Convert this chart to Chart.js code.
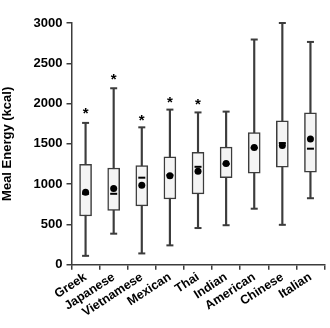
<!DOCTYPE html>
<html>
<head>
<meta charset="utf-8">
<script src="https://cdn.jsdelivr.net/npm/chart.js@4"></script>
<style>
  html, body { margin: 0; padding: 0; background: #fff; }
  #wrap { width: 330px; height: 328px; }
</style>
</head>
<body>
<div id="wrap"><canvas id="mealChart"></canvas></div>
<script>
// Data
const categories = ['Greek', 'Japanese', 'Vietnamese', 'Mexican', 'Thai', 'Indian', 'American', 'Chinese', 'Italian'];
const whiskerMin = [110, 385, 140, 240, 455, 490, 695, 495, 825];
const q1 = [605, 675, 730, 815, 880, 1080, 1135, 1210, 1150];
const median = [880, 880, 1080, 1110, 1215, 1250, 1450, 1510, 1440];
const q3 = [1245, 1200, 1230, 1340, 1395, 1460, 1640, 1785, 1885];
const whiskerMax = [1760, 2190, 1705, 1925, 1890, 1900, 2795, 3000, 2765];
const mean = [900, 945, 985, 1105, 1160, 1255, 1455, 1480, 1560];
const stars = [1920, 2345, 1840, 2055, 2030, null, null, null, null];
const yTicks = [0, 500, 1000, 1500, 2000, 2500, 3000];

const dark = '#3c3c3c';
const font = { family: 'Liberation Sans, Arial, sans-serif', weight: 'bold' };

// significance stars drawn as text at data positions
const starPlugin = {
  id: 'stars',
  afterDatasetsDraw(chart) {
    const { ctx, scales: { x, y } } = chart;
    ctx.save();
    ctx.fillStyle = '#000';
    ctx.font = 'bold 15px "Liberation Sans", Arial, sans-serif';
    ctx.textAlign = 'center';
    ctx.textBaseline = 'middle';
    stars.forEach((v, i) => {
      if (v == null) return;
      ctx.fillText('*', x.getPixelForValue(i), y.getPixelForValue(v) + 4);
    });
    ctx.restore();
  }
};

const pointSet = (data, style, radius, order, extra) => Object.assign({
  type: 'line',
  data: data,
  showLine: false,
  pointStyle: style,
  pointRadius: radius,
  pointHoverRadius: radius,
  pointBorderColor: '#000',
  pointBackgroundColor: '#000',
  pointBorderWidth: 2,
  clip: false,
  order: order
}, extra || {});

const ctx = document.getElementById('mealChart').getContext('2d');
new Chart(ctx, {
  type: 'bar',
  data: {
    labels: categories,
    datasets: [
      {
        label: 'whisker',
        data: whiskerMin.map((v, i) => [v, whiskerMax[i]]),
        backgroundColor: dark,
        borderWidth: 0,
        barThickness: 1.5,
        grouped: false,
        clip: false,
        order: 6
      },
      {
        label: 'box',
        data: q1.map((v, i) => [v, q3[i]]),
        backgroundColor: '#f4f4f4',
        borderColor: dark,
        borderWidth: 1.5,
        borderSkipped: false,
        barThickness: 12,
        grouped: false,
        order: 5
      },
      pointSet(whiskerMin, 'line', 3.5, 4, { pointBorderColor: dark }),
      pointSet(whiskerMax, 'line', 3.5, 3, { pointBorderColor: dark }),
      pointSet(median, 'line', 3.5, 2, { pointBorderWidth: 2 }),
      pointSet(mean, 'circle', 3.5, 1, { pointBorderWidth: 0 })
    ]
  },
  options: {
    responsive: true,
    maintainAspectRatio: false,
    animation: false,
    layout: { padding: { top: 23, right: 2, left: 0, bottom: 8 } },
    plugins: {
      legend: { display: false },
      tooltip: { enabled: false }
    },
    scales: {
      x: {
        offset: true,
        grid: {
          offset: true,
          drawOnChartArea: false,
          drawTicks: true,
          tickLength: 5,
          color: dark,
          lineWidth: 1.5
        },
        border: { color: dark, width: 1.5 },
        ticks: {
          color: '#000',
          font: Object.assign({ size: 12.5 }, font),
          minRotation: 33,
          maxRotation: 33,
          autoSkip: false,
          padding: 0
        }
      },
      y: {
        min: 0,
        max: 3000,
        afterBuildTicks: (axis) => { axis.ticks = yTicks.map(v => ({ value: v })); },
        grid: {
          drawOnChartArea: false,
          drawTicks: true,
          tickLength: 5,
          color: dark,
          lineWidth: 1.5
        },
        border: { color: dark, width: 1.5 },
        ticks: {
          color: '#000',
          font: Object.assign({ size: 13 }, font),
          padding: 4,
          callback: (v) => String(v)
        },
        title: {
          display: true,
          text: 'Meal Energy (kcal)',
          color: '#000',
          font: Object.assign({ size: 13 }, font),
          padding: { top: 0, bottom: 14 }
        }
      }
    }
  },
  plugins: [starPlugin]
});
</script>
</body>
</html>
